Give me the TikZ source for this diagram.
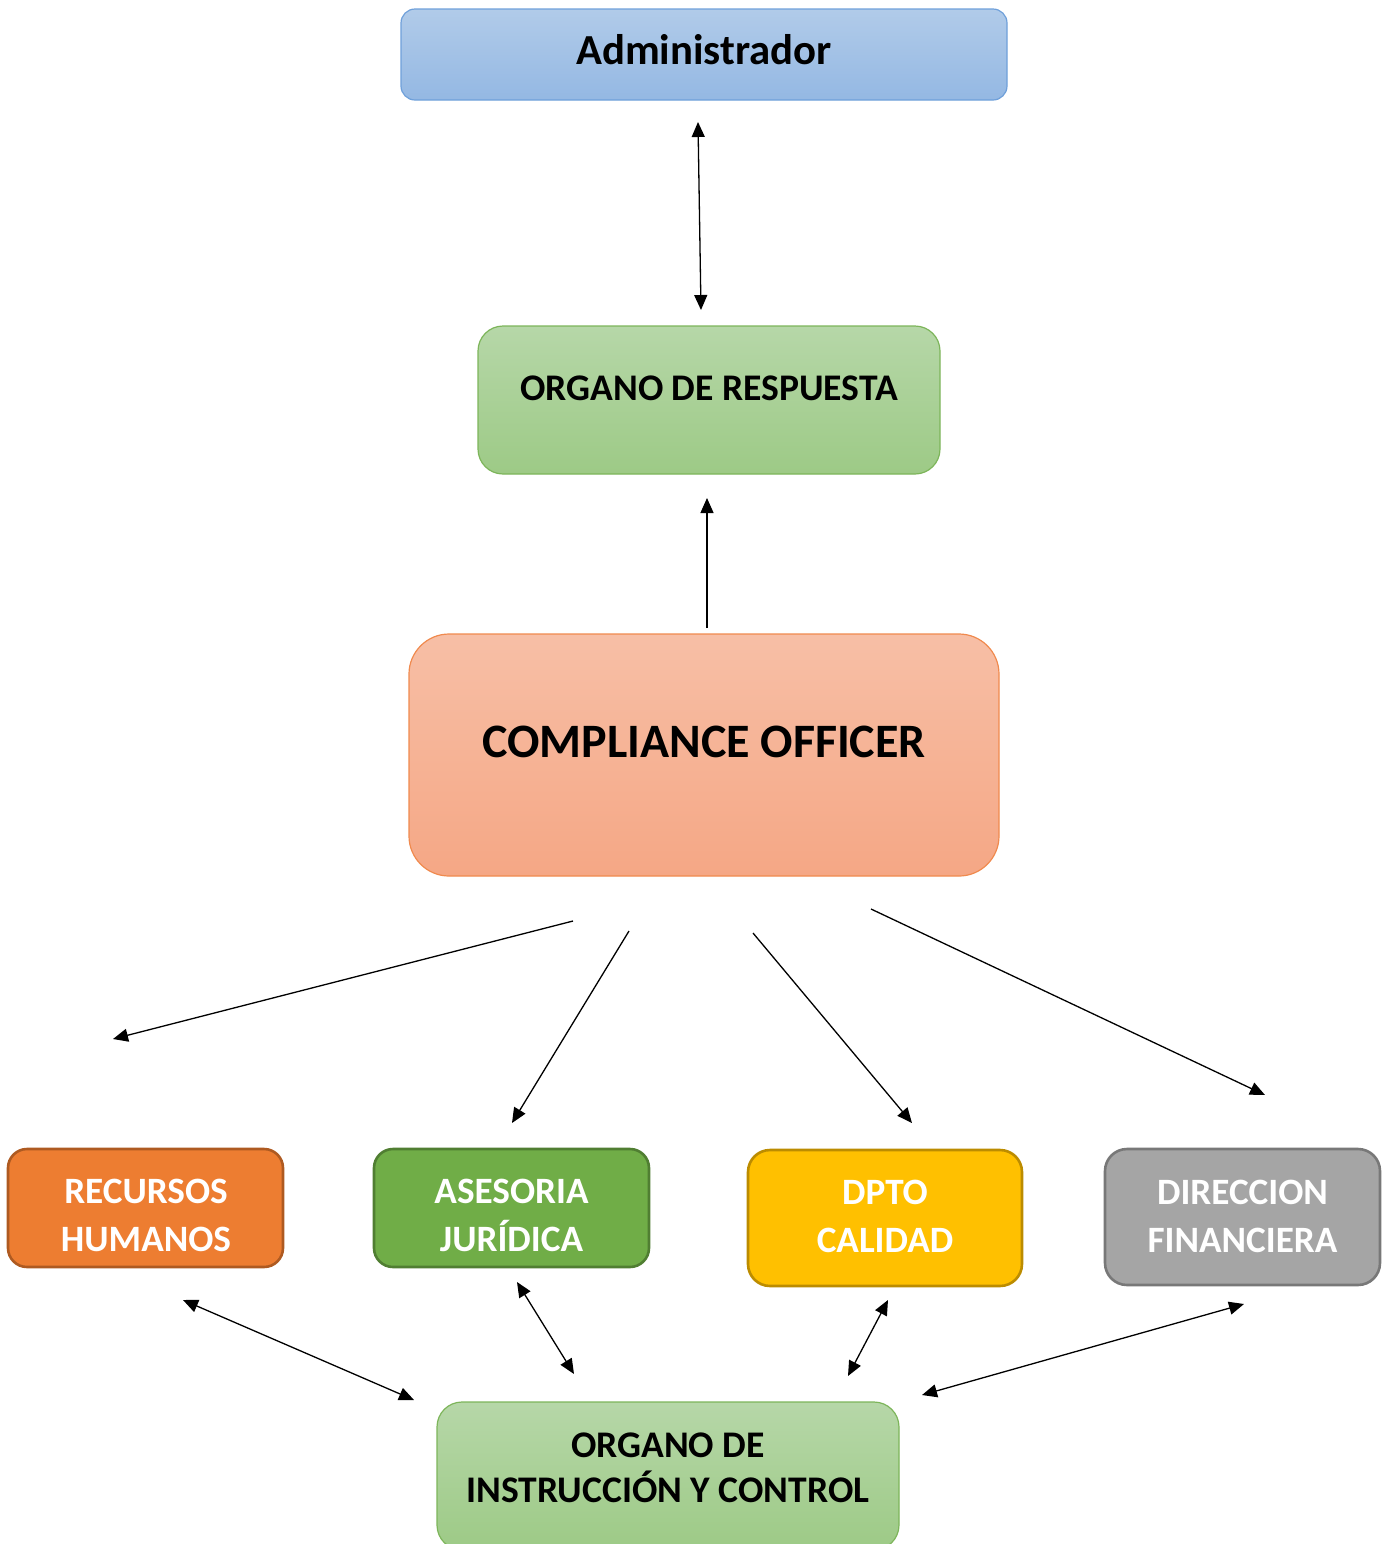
\documentclass[tikz,border=0pt]{standalone}
\usepackage{fontspec}
\setmainfont{Carlito}
\usetikzlibrary{arrows.meta}

\definecolor{blueTop}{HTML}{B1CBE9}
\definecolor{blueBot}{HTML}{94B8E3}
\definecolor{blueLine}{HTML}{6FA0DA}
\definecolor{greenTop}{HTML}{B6D7A8}
\definecolor{greenBot}{HTML}{9DCA86}
\definecolor{greenLine}{HTML}{7DB55A}
\definecolor{salmonTop}{HTML}{F7BFA6}
\definecolor{salmonBot}{HTML}{F5A785}
\definecolor{salmonLine}{HTML}{F08A4E}
\definecolor{rhFill}{HTML}{ED7D31}
\definecolor{rhLine}{HTML}{AE5A21}
\definecolor{ajFill}{HTML}{70AD47}
\definecolor{ajLine}{HTML}{507E32}
\definecolor{dcFill}{HTML}{FFC000}
\definecolor{dcLine}{HTML}{BC8C00}
\definecolor{dfFill}{HTML}{A5A5A5}
\definecolor{dfLine}{HTML}{787878}

\begin{document}
\begin{tikzpicture}[x=0.5pt,y=-0.5pt,
  box/.style={draw, inner sep=0pt, line width=0.6pt},
  dept/.style={box, line width=1.3pt, minimum width=137.5pt, rounded corners=9.5pt},
  txt/.style={anchor=base, align=center, inner sep=0pt, font=\bfseries\fontsize{18.6}{24}\selectfont},
  wtxt/.style={txt, text=white},
  link/.style={line width=0.65pt, -{Triangle[length=7.5pt,width=6.5pt]}},
  duo/.style={line width=0.65pt, {Triangle[length=7.5pt,width=6.5pt]}-{Triangle[length=7.5pt,width=6.5pt]}}]
\useasboundingbox (0,0) rectangle (1386,1544);

% top of the chart
\node[box, draw=blueLine, top color=blueTop, bottom color=blueBot,
      minimum width=303pt, minimum height=45.5pt, rounded corners=7pt] (adm) at (704,54.5) {};
\node[txt, font=\bfseries\fontsize{21.4}{26}\selectfont] (admT) at (704,64) {Administrador};

\node[box, draw=greenLine, top color=greenTop, bottom color=greenBot,
      minimum width=231pt, minimum height=74pt, rounded corners=12.5pt] (resp) at (709,400) {};
\node[txt, font=\bfseries\fontsize{18.8}{24}\selectfont] (respT) at (709,400) {ORGANO DE RESPUESTA};

\node[box, draw=salmonLine, top color=salmonTop, bottom color=salmonBot,
      minimum width=295pt, minimum height=121pt, rounded corners=20pt] (co) at (704,755) {};
\node[txt, font=\bfseries\fontsize{24}{28}\selectfont] (coT) at (704,757) {COMPLIANCE OFFICER};

% departments (the base anchor sits on the last line)
\node[dept, draw=rhLine, fill=rhFill, minimum height=59pt] (rh) at (145.5,1208) {};
\node[wtxt] (rhT) at (146,1251) {RECURSOS\\HUMANOS};

\node[dept, draw=ajLine, fill=ajFill, minimum height=59pt] (aj) at (511.5,1208) {};
\node[wtxt] (ajT) at (511.5,1251) {ASESORIA\\JURÍDICA};

\node[dept, draw=dcLine, fill=dcFill, minimum width=137pt, minimum height=68pt, rounded corners=11pt] (dc) at (885,1218) {};
\node[wtxt] (dcT) at (885,1252) {DPTO\\CALIDAD};

\node[dept, draw=dfLine, fill=dfFill, minimum height=68pt, rounded corners=11pt] (df) at (1242.5,1217) {};
\node[wtxt] (dfT) at (1242.5,1252) {DIRECCION\\FINANCIERA};

% bottom body
\node[box, draw=greenLine, top color=greenTop, bottom color=greenBot,
      minimum width=231pt, minimum height=74pt, rounded corners=12.5pt] (oic) at (668,1476) {};
\node[txt, font=\bfseries\fontsize{18.8}{22.5}\selectfont] (oicT) at (668,1502) {ORGANO DE\\INSTRUCCIÓN Y CONTROL};

% connector end points
\coordinate (p1a) at (698,122);  \coordinate (p1b) at (701,310);
\coordinate (p2a) at (707,628);  \coordinate (p2b) at (707,498);
\coordinate (p3a) at (573,921);  \coordinate (p3b) at (113,1039);
\coordinate (p4a) at (629,931);  \coordinate (p4b) at (512,1123);
\coordinate (p5a) at (753,933);  \coordinate (p5b) at (912,1123);
\coordinate (p6a) at (871,909);  \coordinate (p6b) at (1265,1095);
\coordinate (p7a) at (183,1300); \coordinate (p7b) at (414,1400);
\coordinate (p8a) at (517,1282); \coordinate (p8b) at (574,1374);
\coordinate (p9a) at (888,1300); \coordinate (p9b) at (848,1376);
\coordinate (p10a) at (1244,1304); \coordinate (p10b) at (922,1395);

% connectors
\draw[duo] (p1a) -- (p1b);
\draw[link] (p2a) -- (p2b);
\draw[link] (p3a) -- (p3b);
\draw[link] (p4a) -- (p4b);
\draw[link] (p5a) -- (p5b);
\draw[link] (p6a) -- (p6b);
\draw[duo] (p7a) -- (p7b);
\draw[duo] (p8a) -- (p8b);
\draw[duo] (p9a) -- (p9b);
\draw[duo] (p10a) -- (p10b);
\end{tikzpicture}
\end{document}
